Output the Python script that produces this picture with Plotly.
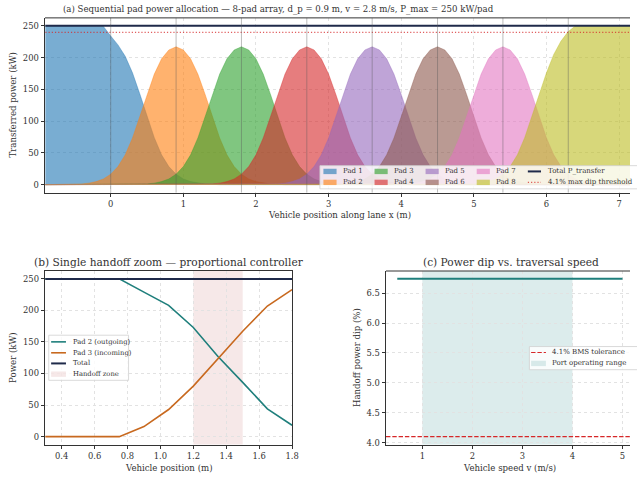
import plotly.graph_objects as go

# ---------------- (a) sequential pad allocation ----------------
pad_names = ["Pad 1", "Pad 2", "Pad 3", "Pad 4", "Pad 5", "Pad 6", "Pad 7", "Pad 8"]
pad_centres = [0.0, 0.9, 1.8, 2.7, 3.6, 4.5, 5.4, 6.3]
pad_colours = [(31, 119, 180), (255, 127, 14), (44, 160, 44), (214, 39, 40),
               (148, 103, 189), (140, 86, 75), (227, 119, 194), (188, 189, 34)]
lane_start, lane_end = -0.9, 7.2

# power of an interior pad vs. vehicle offset from the pad centre (m -> kW)
inner_offset = [-1.5, -1.4, -1.3, -1.2, -1.1, -1.0, -0.9, -0.8, -0.7, -0.6, -0.5,
                -0.4, -0.3, -0.2, -0.1, 0.0, 0.1, 0.2, 0.3, 0.4, 0.5, 0.6, 0.7,
                0.8, 0.9, 1.0, 1.1, 1.2, 1.3, 1.4, 1.5]
inner_kw = [0.0, 0.5, 1.1, 2.4, 4.8, 9.0, 16.5, 28.5, 47.0, 73.6, 106.5,
            142.0, 174.0, 198.0, 212.0, 217.0, 212.0, 198.0, 174.0, 142.0, 106.5, 73.6, 47.0,
            28.5, 16.5, 9.0, 4.8, 2.4, 1.1, 0.5, 0.0]

# end pads carry the full P_max on their outer side
pad1_x = [-0.9, -0.2, -0.1, 0.0, 0.1, 0.2, 0.3, 0.4, 0.5, 0.6, 0.7, 0.8, 0.9,
          1.0, 1.1, 1.2, 1.3, 1.4, 1.5]
pad1_kw = [250.0, 250.0, 249.0, 234.0, 220.0, 202.0, 176.0, 143.0, 107.0, 74.0, 47.0,
           28.5, 16.5, 9.0, 4.8, 2.4, 1.1, 0.5, 0.0]
pad8_x = [4.8, 4.9, 5.0, 5.1, 5.2, 5.3, 5.4, 5.5, 5.6, 5.7, 5.8, 5.9, 6.0, 6.1,
          6.2, 6.3, 6.4, 7.2]
pad8_kw = [0.0, 0.5, 1.1, 2.4, 4.8, 9.0, 16.5, 28.5, 47.0, 74.0, 107.0, 143.0,
           176.0, 205.0, 226.0, 241.0, 250.0, 250.0]

p_max = 250.0
max_dip = 0.041
total_x = [lane_start, lane_end]
total_kw = [250.0, 250.0]

# ---------------- (b) single handoff ----------------
handoff_x = [0.30, 0.45, 0.60, 0.75, 0.90, 1.05, 1.20, 1.35, 1.50, 1.65, 1.80]
pad2_out_kw = [250, 250, 250, 250, 229, 208, 173, 127, 86, 44, 18]
pad3_in_kw = [0, 0, 0, 0, 16, 43, 80, 124, 167, 207, 233]
handoff_total_kw = [250, 250, 250, 250, 250, 250, 250, 250, 250, 250, 250]
handoff_zone = (1.2, 1.5)

# ---------------- (c) dip vs speed ----------------
speed_ms = [0.5, 1.0, 1.5, 2.0, 2.5, 3.0, 3.5, 4.0, 4.5, 5.0]
dip_pct = [6.74, 6.74, 6.74, 6.74, 6.74, 6.74, 6.74, 6.74, 6.74, 6.74]
port_range = (1.0, 4.0)
bms_tolerance = 4.1

# ---------------- styling ----------------
W, H = 637, 483
FONT = "DejaVu Serif"
TXT = "#333333"
NAVY = "#1f2a4a"
TEAL = "#1f7f7c"
ORANGE = "#c8691f"
RED = "#d62728"
DOTTED = "1.2px,2px"
DASHED = "4.4px,1.9px"


def px(x):
    return x / W


def py(y):
    return 1 - y / H


def rgba(c, a):
    return f"rgba({c[0]},{c[1]},{c[2]},{a})"


fig = go.Figure()

# pad fills
for i, name in enumerate(pad_names):
    if i == 0:
        xs, ys = list(pad1_x) + [lane_end], list(pad1_kw) + [0.0]
    elif i == len(pad_names) - 1:
        xs, ys = [lane_start] + list(pad8_x), [0.0] + list(pad8_kw)
    else:
        c = pad_centres[i]
        xs = [lane_start] + [c + o for o in inner_offset] + [lane_end]
        ys = [0.0] + list(inner_kw) + [0.0]
    fig.add_trace(go.Scatter(
        x=xs, y=ys, mode="lines", fill="tozeroy",
        fillcolor=rgba(pad_colours[i], 0.6),
        line=dict(color=rgba(pad_colours[i], 0.6), width=0.6),
        name=name, showlegend=False, hoverinfo="skip", xaxis="x", yaxis="y"))

thr = p_max * (1 - max_dip)
fig.add_trace(go.Scatter(x=total_x, y=[thr, thr], mode="lines",
                         line=dict(color="rgba(214,39,40,0.75)", width=1.1, dash=DOTTED),
                         showlegend=False, hoverinfo="skip", xaxis="x", yaxis="y"))
fig.add_trace(go.Scatter(x=total_x, y=total_kw, mode="lines",
                         line=dict(color=NAVY, width=2),
                         showlegend=False, hoverinfo="skip", xaxis="x", yaxis="y"))

# (b)
fig.add_trace(go.Scatter(x=handoff_x, y=pad2_out_kw, mode="lines",
                         line=dict(color=TEAL, width=1.6), showlegend=False,
                         xaxis="x2", yaxis="y2"))
fig.add_trace(go.Scatter(x=handoff_x, y=pad3_in_kw, mode="lines",
                         line=dict(color=ORANGE, width=1.6), showlegend=False,
                         xaxis="x2", yaxis="y2"))
fig.add_trace(go.Scatter(x=handoff_x, y=handoff_total_kw, mode="lines",
                         line=dict(color=NAVY, width=2), showlegend=False,
                         xaxis="x2", yaxis="y2"))

# (c)
fig.add_trace(go.Scatter(x=speed_ms, y=dip_pct, mode="lines",
                         line=dict(color=TEAL, width=2), showlegend=False,
                         xaxis="x3", yaxis="y3"))

shapes = []
# pad centre markers
for c in pad_centres:
    shapes.append(dict(type="line", xref="x", yref="y domain", x0=c, x1=c, y0=0, y1=1,
                       line=dict(color="rgba(90,90,90,0.45)", width=0.9), layer="above"))
# handoff zone and operating range
shapes.append(dict(type="rect", xref="x2", yref="y2 domain", x0=handoff_zone[0],
                   x1=handoff_zone[1], y0=0, y1=1, fillcolor="rgba(200,120,120,0.17)",
                   line=dict(width=0), layer="below"))
shapes.append(dict(type="rect", xref="x3", yref="y3 domain", x0=port_range[0],
                   x1=port_range[1], y0=0, y1=1, fillcolor="rgba(110,175,175,0.24)",
                   line=dict(width=0), layer="below"))
shapes.append(dict(type="line", xref="x3 domain", yref="y3", x0=0, x1=1,
                   y0=bms_tolerance, y1=bms_tolerance,
                   line=dict(color=RED, width=1.1, dash=DASHED), layer="above"))
# top spines for the panels whose right edge runs off the page
for xr, yr in (("x domain", "y domain"), ("x3 domain", "y3 domain")):
    shapes.append(dict(type="line", xref=xr, yref=yr, x0=0, x1=1, y0=1, y1=1,
                       line=dict(color=TXT, width=1), layer="above"))

annotations = []


def text(x, y, s, size, xanchor="left", angle=0, color=TXT):
    annotations.append(dict(x=px(x), y=py(y), xref="paper", yref="paper", text=s,
                            showarrow=False, xanchor=xanchor, yanchor="middle",
                            textangle=angle, borderpad=0,
                            font=dict(family=FONT, size=size, color=color)))


def legend_box(x0, y0, x1, y1):
    shapes.append(dict(type="rect", xref="paper", yref="paper", x0=px(x0), x1=px(x1),
                       y0=py(y1), y1=py(y0), fillcolor="rgba(255,255,255,0.82)",
                       line=dict(color="#d0d0d0", width=0.8), layer="above"))


def swatch_patch(x, y, colour, w=13.3, h=5.4):
    shapes.append(dict(type="rect", xref="paper", yref="paper", x0=px(x), x1=px(x + w),
                       y0=py(y + h / 2), y1=py(y - h / 2), fillcolor=colour,
                       line=dict(width=0), layer="above"))


def swatch_line(x, y, colour, width, dash="solid", w=13.3):
    shapes.append(dict(type="line", xref="paper", yref="paper", x0=px(x), x1=px(x + w),
                       y0=py(y), y1=py(y), line=dict(color=colour, width=width, dash=dash),
                       layer="above"))


# legend (a)
legend_box(323.5, 166.7, 645, 190)
col_x = [327, 378.7, 430.3, 482, 533.7]
row_y = [172.5, 183.5]
for i, name in enumerate(pad_names):
    cx, ry = col_x[i // 2], row_y[i % 2]
    swatch_patch(cx, ry, rgba(pad_colours[i], 0.6))
    text(cx + 18.3, ry, name, 7)
swatch_line(col_x[4], row_y[0], NAVY, 2)
text(col_x[4] + 19.3, row_y[0], "Total P_transfer", 7)
swatch_line(col_x[4], row_y[1], "rgba(214,39,40,0.75)", 1.1, DOTTED)
text(col_x[4] + 19.3, row_y[1], "4.1% max dip threshold", 7)

# legend (b)
legend_box(49.3, 337.3, 130, 382.7)
b_rows = [344, 355, 365.7, 376.5]
swatch_line(51.7, b_rows[0], TEAL, 1.6, w=15)
text(72.7, b_rows[0], "Pad 2 (outgoing)", 6.8)
swatch_line(51.7, b_rows[1], ORANGE, 1.6, w=15)
text(72.7, b_rows[1], "Pad 3 (incoming)", 6.8)
swatch_line(51.7, b_rows[2], NAVY, 2, w=15)
text(72.7, b_rows[2], "Total", 6.8)
swatch_patch(51.7, b_rows[3], "rgba(200,120,120,0.17)", w=15)
text(72.7, b_rows[3], "Handoff zone", 6.8)

# legend (c)
legend_box(535.3, 348.7, 645, 372)
swatch_line(537, 354.7, RED, 1.1, DASHED, w=15)
text(557, 354.7, "4.1% BMS tolerance", 7)
swatch_patch(537, 365.7, "rgba(110,175,175,0.24)", w=15)
text(557, 365.7, "Port operating range", 7)

# titles and axis labels
text(282, 10, "(a) Sequential pad power allocation \u2014 8-pad array, d_p = 0.9 m, v = 2.8 m/s, P_max = 250 kW/pad", 8.6, "center")
text(170.8, 264, "(b) Single handoff zoom \u2014 proportional controller", 10.6, "center")
text(516.3, 264, "(c) Power dip vs. traversal speed", 10.6, "center")
text(343.5, 216.7, "Vehicle position along lane x (m)", 8.6, "center")
text(13.3, 106, "Transferred power (kW)", 8.6, "center", angle=-90)
text(170.5, 470.7, "Vehicle position (m)", 8.6, "center")
text(13.3, 360, "Power (kW)", 8.6, "center", angle=-90)
text(515.3, 470.7, "Vehicle speed v (m/s)", 8.6, "center")
text(360.3, 360, "Handoff power dip (%)", 8.6, "center", angle=-90)

axis_common = dict(showline=True, linecolor=TXT, linewidth=1, ticks="outside",
                   ticklen=3.5, tickwidth=0.8, tickcolor=TXT, showgrid=True,
                   gridcolor="#e2e2e2", griddash="dot", gridwidth=0.8, zeroline=False,
                   tickfont=dict(family=FONT, size=8.4, color=TXT))

fig.update_layout(
    width=W, height=H, margin=dict(l=0, r=0, t=0, b=0),
    paper_bgcolor="white", plot_bgcolor="white", showlegend=False,
    xaxis=dict(domain=[px(45.5), 1], range=[-0.905, 7.15], anchor="y",
               tickvals=[0, 1, 2, 3, 4, 5, 6, 7], mirror=False, **axis_common),
    yaxis=dict(domain=[py(193.8), py(18)], range=[-12.5, 262.5], anchor="x",
               tickvals=[0, 50, 100, 150, 200, 250], mirror=False, **axis_common),
    xaxis2=dict(domain=[px(45.7), px(295.3)], range=[0.3, 1.8], anchor="y2",
                tickvals=[0.4, 0.6, 0.8, 1.0, 1.2, 1.4, 1.6, 1.8], tickformat=".1f",
                mirror=True, **axis_common),
    yaxis2=dict(domain=[py(447.3), py(272.7)], range=[-12.5, 262.5], anchor="x2",
                tickvals=[0, 50, 100, 150, 200, 250], mirror=True, **axis_common),
    xaxis3=dict(domain=[px(390.3), 1], range=[0.275, 5.15], anchor="y3",
                tickvals=[1, 2, 3, 4, 5], mirror=False, **axis_common),
    yaxis3=dict(domain=[py(447.3), py(272.7)], range=[3.968, 6.87], anchor="x3",
                tickvals=[4.0, 4.5, 5.0, 5.5, 6.0, 6.5], tickformat=".1f",
                mirror=False, **axis_common),
    shapes=shapes, annotations=annotations,
)

fig.write_html("out.html")
